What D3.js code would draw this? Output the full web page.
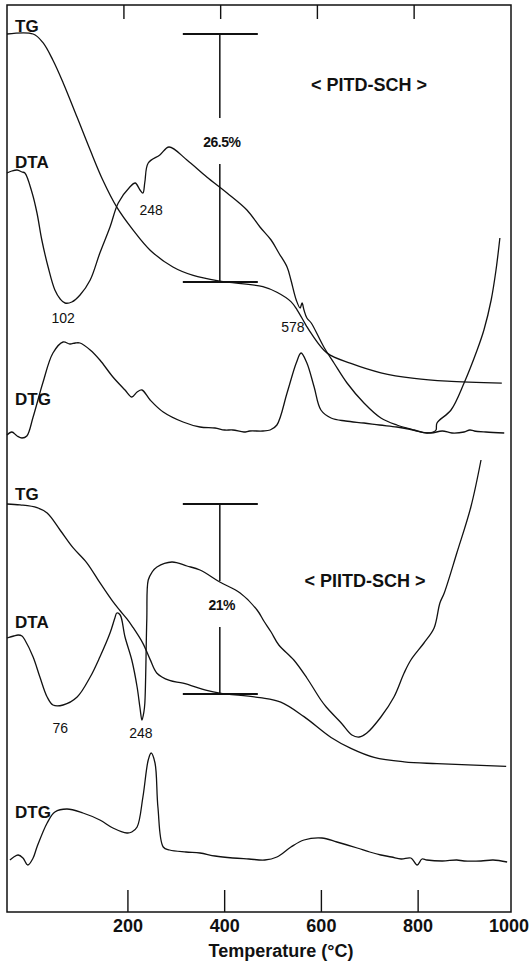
<!DOCTYPE html>
<html>
<head>
<meta charset="utf-8">
<script src="https://cdn.jsdelivr.net/npm/d3@7"></script>
<style>
  html, body { margin: 0; padding: 0; background: #fff; }
  svg { display: block; }
  text { font-family: "Liberation Sans", Arial, sans-serif; fill: #111; }
</style>
</head>
<body>
<div id="chart"></div>
<script>
// temperature axis (°C)
const tempTicks = [200, 400, 600, 800, 1000];

// sample names, mass loss
const samples = ["< PITD-SCH >", "< PIITD-SCH >"];
const massLoss = [26.5, 21];
const lossTemp = [390, 390];

// ---- PITD-SCH : [temperature, value] ----
// TG in mass %
const tgPITD = [[-50,100],[4,100],[24,99.1],[45,97.2],[66,94.8],[95,91.1],[122,87.6],[148,84.4],[177,81.5],[210,79.1],[246,76.9],[293,75.1],[335,74.2],[390,73.6],[479,73.0],[508,72.4],[537,71.4],[550,70.5],[568,68.9],[579,68.0],[612,65.9],[661,64.8],[723,63.8],[792,63.2],[860,62.9],[973,62.7]];
// DTA, arbitrary units
const dtaPITD = [[-50,133.5],[-40,134.5],[-29,135],[-19,134],[-13,133.5],[2,123.5],[12,113.5],[22,100],[35,86.5],[49,75],[60,70.5],[70,68.5],[84,69],[101,72.5],[122,80],[142,93.5],[163,106.5],[180,118.5],[204,126.5],[215,128.5],[225,125],[231,123.5],[235,129],[242,138.5],[266,142.5],[285,146.5],[322,140],[363,131.5],[405,123.5],[446,115],[473,106.5],[496,100],[512,93.5],[529,86.5],[537,80],[548,70],[556,66],[560,68.5],[564,65],[570,61],[579,58.5],[605,46.5],[626,38.5],[653,28.5],[688,18.5],[723,11],[756,7.5],[792,5],[818,3.5],[831,4],[837,5],[839,8.5],[868,15],[895,28.5],[922,45],[936,55],[951,70],[961,85],[969,101]];
// DTG, arbitrary units
const dtgPITD = [[-50,2.5],[-40,4],[-29,2],[-19,1],[-9,2],[4,11.5],[24,28.5],[45,43.5],[66,49],[80,48],[91,48.5],[101,48.5],[122,45],[142,40],[169,31.5],[194,25],[208,21.5],[219,24],[229,25],[246,20],[273,14],[314,9],[349,6.5],[380,6],[400,5],[417,5],[440,4],[452,4.5],[479,4.5],[494,5],[508,7.5],[529,23.5],[548,38.5],[558,43.5],[570,38.5],[585,26.5],[599,15],[620,11],[650,9.5],[688,8.5],[720,7.5],[756,6.5],[780,5.5],[806,4],[827,3.5],[850,4.5],[870,3.5],[895,4],[907,5],[916,4.5],[940,4],[978,3.5]];
const peaksPITD = [["102", 66, 61], ["248", 248, 115], ["578", 541, 56.5]];

// ---- PIITD-SCH ----
const tgPIITD = [[-50,100],[-23,99.9],[12,99.6],[33,99.0],[60,97.1],[86,95.2],[115,93.5],[142,91.3],[169,89.2],[184,88.2],[198,87.3],[210,86.4],[231,84.6],[246,82.8],[260,81.3],[286,80.5],[314,80.2],[363,79.4],[390,79.1],[473,78.6],[516,78.1],[564,76.5],[620,74.2],[661,73.0],[709,72.0],[771,71.5],[839,71.3],[982,71.0]];
const dtaPIITD = [[-50,51],[-36,52],[-27,52.5],[-19,52],[-13,50],[4,41.5],[18,31.5],[33,21.5],[45,17.5],[66,17.5],[95,21.5],[122,31.5],[142,41.5],[163,53.5],[173,61],[177,63.5],[184,62.5],[194,51.5],[208,40],[219,26.5],[225,16],[229,10],[233,14],[235,18.5],[239,60],[242,80],[250,84],[260,86.5],[291,89],[322,87],[349,85],[390,79],[432,73.5],[467,65],[481,59.5],[496,54],[512,47.5],[543,40],[570,31],[599,20],[610,16.5],[641,8.5],[663,2.5],[678,1.5],[694,3.5],[723,11.5],[750,21.5],[771,33.5],[785,40],[812,48.5],[833,56],[845,68.5],[854,73.5],[880,93.5],[909,116.5],[930,140]];
const dtgPIITD = [[-44,5],[-36,6.5],[-27,7.5],[-17,6],[-7,2.5],[4,6],[12,11.5],[33,23.5],[49,29],[74,30.5],[107,28.5],[142,25],[169,21],[198,18.5],[208,19],[219,21.5],[231,36.5],[242,55],[248,58.5],[256,53.5],[262,31.5],[273,11.5],[286,10],[320,9],[349,8.5],[380,7],[417,6],[450,5.5],[483,5],[508,6.5],[537,11.5],[564,15],[601,16],[632,14],[674,11],[700,9],[723,7.5],[745,6.5],[765,5.5],[785,6],[798,2.5],[808,5.5],[818,5],[850,4.5],[880,5],[895,4.5],[930,4.5],[955,5],[984,4]];
const peaksPIITD = [["76", 60, 6], ["248", 227, 3.5]];

const width = 529, height = 970;
const frame = { left: 7, right: 511, top: 5, bottom: 912 };

const svg = d3.select("#chart").append("svg")
  .attr("width", width)
  .attr("height", height);

svg.append("rect").attr("width", width).attr("height", height).attr("fill", "#fff");

const x = d3.scaleLinear().domain([-50, 992]).range([frame.left, frame.right]);

const panels = [
  {
    title: samples[0], titleX: 369, titleY: 91,
    tg: tgPITD, dta: dtaPITD, dtg: dtgPITD, peaks: peaksPITD,
    yTG: d3.scaleLinear().domain([100, 100 - massLoss[0]]).range([34, 282]),
    yDTA: d3.scaleLinear().domain([0, 100]).range([440, 240]),
    yDTG: d3.scaleLinear().domain([0, 100]).range([440, 240]),
    labelY: { TG: 32, DTA: 168, DTG: 405 },
    loss: massLoss[0], lossT: lossTemp[0], lossLabelY: 142
  },
  {
    title: samples[1], titleX: 365, titleY: 587,
    tg: tgPIITD, dta: dtaPIITD, dtg: dtgPIITD, peaks: peaksPIITD,
    yTG: d3.scaleLinear().domain([100, 100 - massLoss[1]]).range([504, 694]),
    yDTA: d3.scaleLinear().domain([0, 100]).range([740, 540]),
    yDTG: d3.scaleLinear().domain([0, 100]).range([870, 670]),
    labelY: { TG: 500, DTA: 628, DTG: 818 },
    loss: massLoss[1], lossT: lossTemp[1], lossLabelY: 605
  }
];

// frame
svg.append("rect")
  .attr("x", frame.left).attr("y", frame.top)
  .attr("width", frame.right - frame.left)
  .attr("height", frame.bottom - frame.top)
  .attr("fill", "none")
  .attr("stroke", "#111")
  .attr("stroke-width", 1.5);

// ticks, top and bottom (1000 sits on the frame)
const inner = tempTicks.filter(t => x(t) < frame.right - 5);
svg.selectAll(".tickB").data(inner).join("line")
  .attr("x1", d => x(d)).attr("x2", d => x(d))
  .attr("y1", frame.bottom - 22).attr("y2", frame.bottom)
  .attr("stroke", "#111").attr("stroke-width", 1.4);
svg.selectAll(".tickT").data(inner).join("line")
  .attr("x1", d => x(d) - 4).attr("x2", d => x(d) - 4)
  .attr("y1", frame.top).attr("y2", frame.top + 14)
  .attr("stroke", "#111").attr("stroke-width", 1.4);

svg.selectAll(".tickLabel").data(tempTicks).join("text")
  .attr("x", d => Math.min(x(d), width - 20))
  .attr("y", 932)
  .attr("text-anchor", "middle")
  .attr("font-size", 18)
  .attr("font-weight", "bold")
  .text(d => d);

svg.append("text")
  .attr("x", 281).attr("y", 957)
  .attr("text-anchor", "middle")
  .attr("font-size", 18)
  .attr("font-weight", "bold")
  .text("Temperature (°C)");

panels.forEach(p => {
  const g = svg.append("g");

  const curves = [
    { data: p.tg, y: p.yTG },
    { data: p.dta, y: p.yDTA },
    { data: p.dtg, y: p.yDTG }
  ];
  curves.forEach(c => {
    const line = d3.line()
      .x(d => x(d[0]))
      .y(d => c.y(d[1]))
      .curve(d3.curveCatmullRom.alpha(0.5));
    g.append("path")
      .attr("d", line(c.data))
      .attr("fill", "none")
      .attr("stroke", "#111")
      .attr("stroke-width", 1.3)
      .attr("stroke-linejoin", "round");
  });

  // curve names
  ["TG", "DTA", "DTG"].forEach(name => {
    g.append("text")
      .attr("x", 15).attr("y", p.labelY[name])
      .attr("font-size", 17)
      .attr("font-weight", "bold")
      .text(name);
  });

  // sample title
  g.append("text")
    .attr("x", p.titleX).attr("y", p.titleY)
    .attr("text-anchor", "middle")
    .attr("font-size", 18)
    .attr("font-weight", "bold")
    .text(p.title);

  // peak temperatures
  g.selectAll(".peak").data(p.peaks).join("text")
    .attr("x", d => x(d[1]))
    .attr("y", d => p.yDTA(d[2]) + 5)
    .attr("text-anchor", "middle")
    .attr("font-size", 14)
    .text(d => d[0]);

  // mass loss bar
  const bx = x(p.lossT);
  const yTop = p.yTG(100);
  const yBot = p.yTG(100 - p.loss);
  [yTop, yBot].forEach(yy => {
    g.append("line")
      .attr("x1", bx - 37).attr("x2", bx + 38)
      .attr("y1", yy).attr("y2", yy)
      .attr("stroke", "#111").attr("stroke-width", 2);
  });
  g.append("line")
    .attr("x1", bx).attr("x2", bx)
    .attr("y1", yTop).attr("y2", p.lossLabelY - 24)
    .attr("stroke", "#111").attr("stroke-width", 1.5);
  g.append("line")
    .attr("x1", bx).attr("x2", bx)
    .attr("y1", p.lossLabelY + 22).attr("y2", yBot)
    .attr("stroke", "#111").attr("stroke-width", 1.5);
  g.append("text")
    .attr("x", bx + 2).attr("y", p.lossLabelY + 5)
    .attr("text-anchor", "middle")
    .attr("font-size", 14)
    .attr("font-weight", "bold")
    .attr("letter-spacing", -0.5)
    .text(p.loss + "%");
});
</script>
</body>
</html>
